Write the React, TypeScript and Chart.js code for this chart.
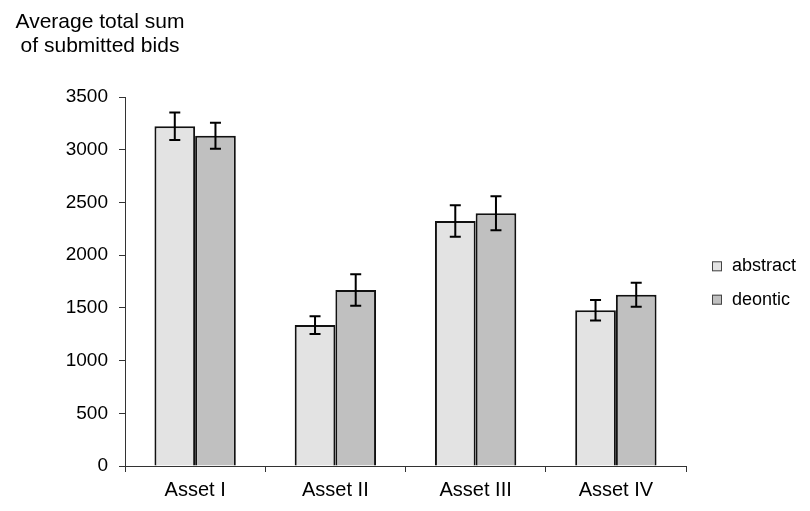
import React, { useEffect, useRef } from "react";
import { Chart, registerables } from "chart.js";

Chart.register(...registerables);

const categories = ["Asset I", "Asset II", "Asset III", "Asset IV"];
const abstractValues = [3222, 1337, 2324, 1477];
const deonticValues = [3133, 1669, 2397, 1625];
const abstractErrors = [130, 84, 150, 98];
const deonticErrors = [123, 150, 161, 114];
const seriesNames = ["abstract", "deontic"];
const seriesColors = ["#e3e3e3", "#c0c0c0"];
const titleLines = ["Average total sum", "of submitted bids"];
const yTicksMax = 3500;
const yTicksStep = 500;

const FONT = "'Liberation Sans', Arial, sans-serif";

const errorBarPlugin = {
  id: "errorBars",
  afterDatasetsDraw(chart: any) {
    const { ctx } = chart;
    const yScale = chart.scales.y;
    const errs = [abstractErrors, deonticErrors];
    chart.data.datasets.forEach((ds: any, di: number) => {
      const meta = chart.getDatasetMeta(di);
      meta.data.forEach((bar: any, i: number) => {
        const v = ds.data[i];
        const e = errs[di][i];
        const yTop = yScale.getPixelForValue(v + e);
        const yBot = yScale.getPixelForValue(v - e);
        const x = bar.x;
        const cap = 5.5;
        ctx.save();
        ctx.strokeStyle = "#000";
        ctx.lineWidth = 2;
        ctx.beginPath();
        ctx.moveTo(x, yTop);
        ctx.lineTo(x, yBot);
        ctx.moveTo(x - cap, yTop);
        ctx.lineTo(x + cap, yTop);
        ctx.moveTo(x - cap, yBot);
        ctx.lineTo(x + cap, yBot);
        ctx.stroke();
        ctx.restore();
      });
    });
  },
};

const decorPlugin = {
  id: "decor",
  afterDraw(chart: any) {
    const { ctx, chartArea } = chart;
    ctx.save();
    ctx.fillStyle = "#000";
    ctx.font = `21px ${FONT}`;
    ctx.textAlign = "center";
    ctx.textBaseline = "alphabetic";
    ctx.fillText(titleLines[0], 92, 20);
    ctx.fillText(titleLines[1], 92, 44);
    const cy = (chartArea.top + chartArea.bottom) / 2;
    const bx = chartArea.right + 26;
    const spacing = 33.4;
    chart.data.datasets.forEach((ds: any, i: number) => {
      const centerY = cy - spacing / 2 + i * spacing + 1.5;
      ctx.fillStyle = ds.backgroundColor;
      ctx.fillRect(bx, centerY - 5, 10, 10);
      ctx.strokeStyle = "#444";
      ctx.lineWidth = 1;
      ctx.strokeRect(bx + 0.5, centerY - 4.5, 9, 9);
      ctx.fillStyle = "#000";
      ctx.font = `18px ${FONT}`;
      ctx.textAlign = "left";
      ctx.textBaseline = "middle";
      ctx.fillText(ds.label, bx + 20, centerY);
    });
    ctx.restore();
  },
};

export default function App() {
  const ref = useRef<HTMLCanvasElement | null>(null);
  useEffect(() => {
    if (!ref.current) return;
    const chart = new Chart(ref.current, {
      type: "bar",
      data: {
        labels: categories,
        datasets: [
          {
            label: seriesNames[0],
            data: abstractValues,
            backgroundColor: seriesColors[0],
            borderColor: "#111",
            borderWidth: 2,
            categoryPercentage: 0.58,
            barPercentage: 1.0,
          },
          {
            label: seriesNames[1],
            data: deonticValues,
            backgroundColor: seriesColors[1],
            borderColor: "#111",
            borderWidth: 2,
            categoryPercentage: 0.58,
            barPercentage: 1.0,
          },
        ],
      },
      options: {
        responsive: false,
        animation: false,
        devicePixelRatio: 1,
        layout: { padding: { left: 0, right: 116, top: 89, bottom: 0 } },
        plugins: {
          legend: { display: false },
          tooltip: { enabled: false },
          title: { display: false },
        },
        scales: {
          x: {
            grid: {
              offset: true,
              drawOnChartArea: false,
              drawTicks: true,
              tickLength: 6,
              color: "#333",
            },
            border: { display: true, color: "#333", width: 1 },
            ticks: {
              color: "#000",
              font: { family: FONT, size: 20 },
              padding: 6,
              maxRotation: 0,
            },
            afterFit(scale: any) {
              scale.height = 37;
            },
          },
          y: {
            min: 0,
            max: yTicksMax,
            grid: {
              drawOnChartArea: false,
              drawTicks: true,
              tickLength: 6,
              color: "#333",
            },
            border: { display: true, color: "#333", width: 1 },
            ticks: {
              stepSize: yTicksStep,
              color: "#000",
              font: { family: FONT, size: 19 },
              padding: 11,
              callback: (v: any) => String(v),
            },
            afterFit(scale: any) {
              scale.width = 117;
            },
          },
        },
      },
      plugins: [errorBarPlugin, decorPlugin],
    });
    return () => chart.destroy();
  }, []);
  return (
    <div style={{ width: 794, height: 495 }}>
      <canvas ref={ref} width={794} height={495} style={{ display: "block" }} />
    </div>
  );
}
